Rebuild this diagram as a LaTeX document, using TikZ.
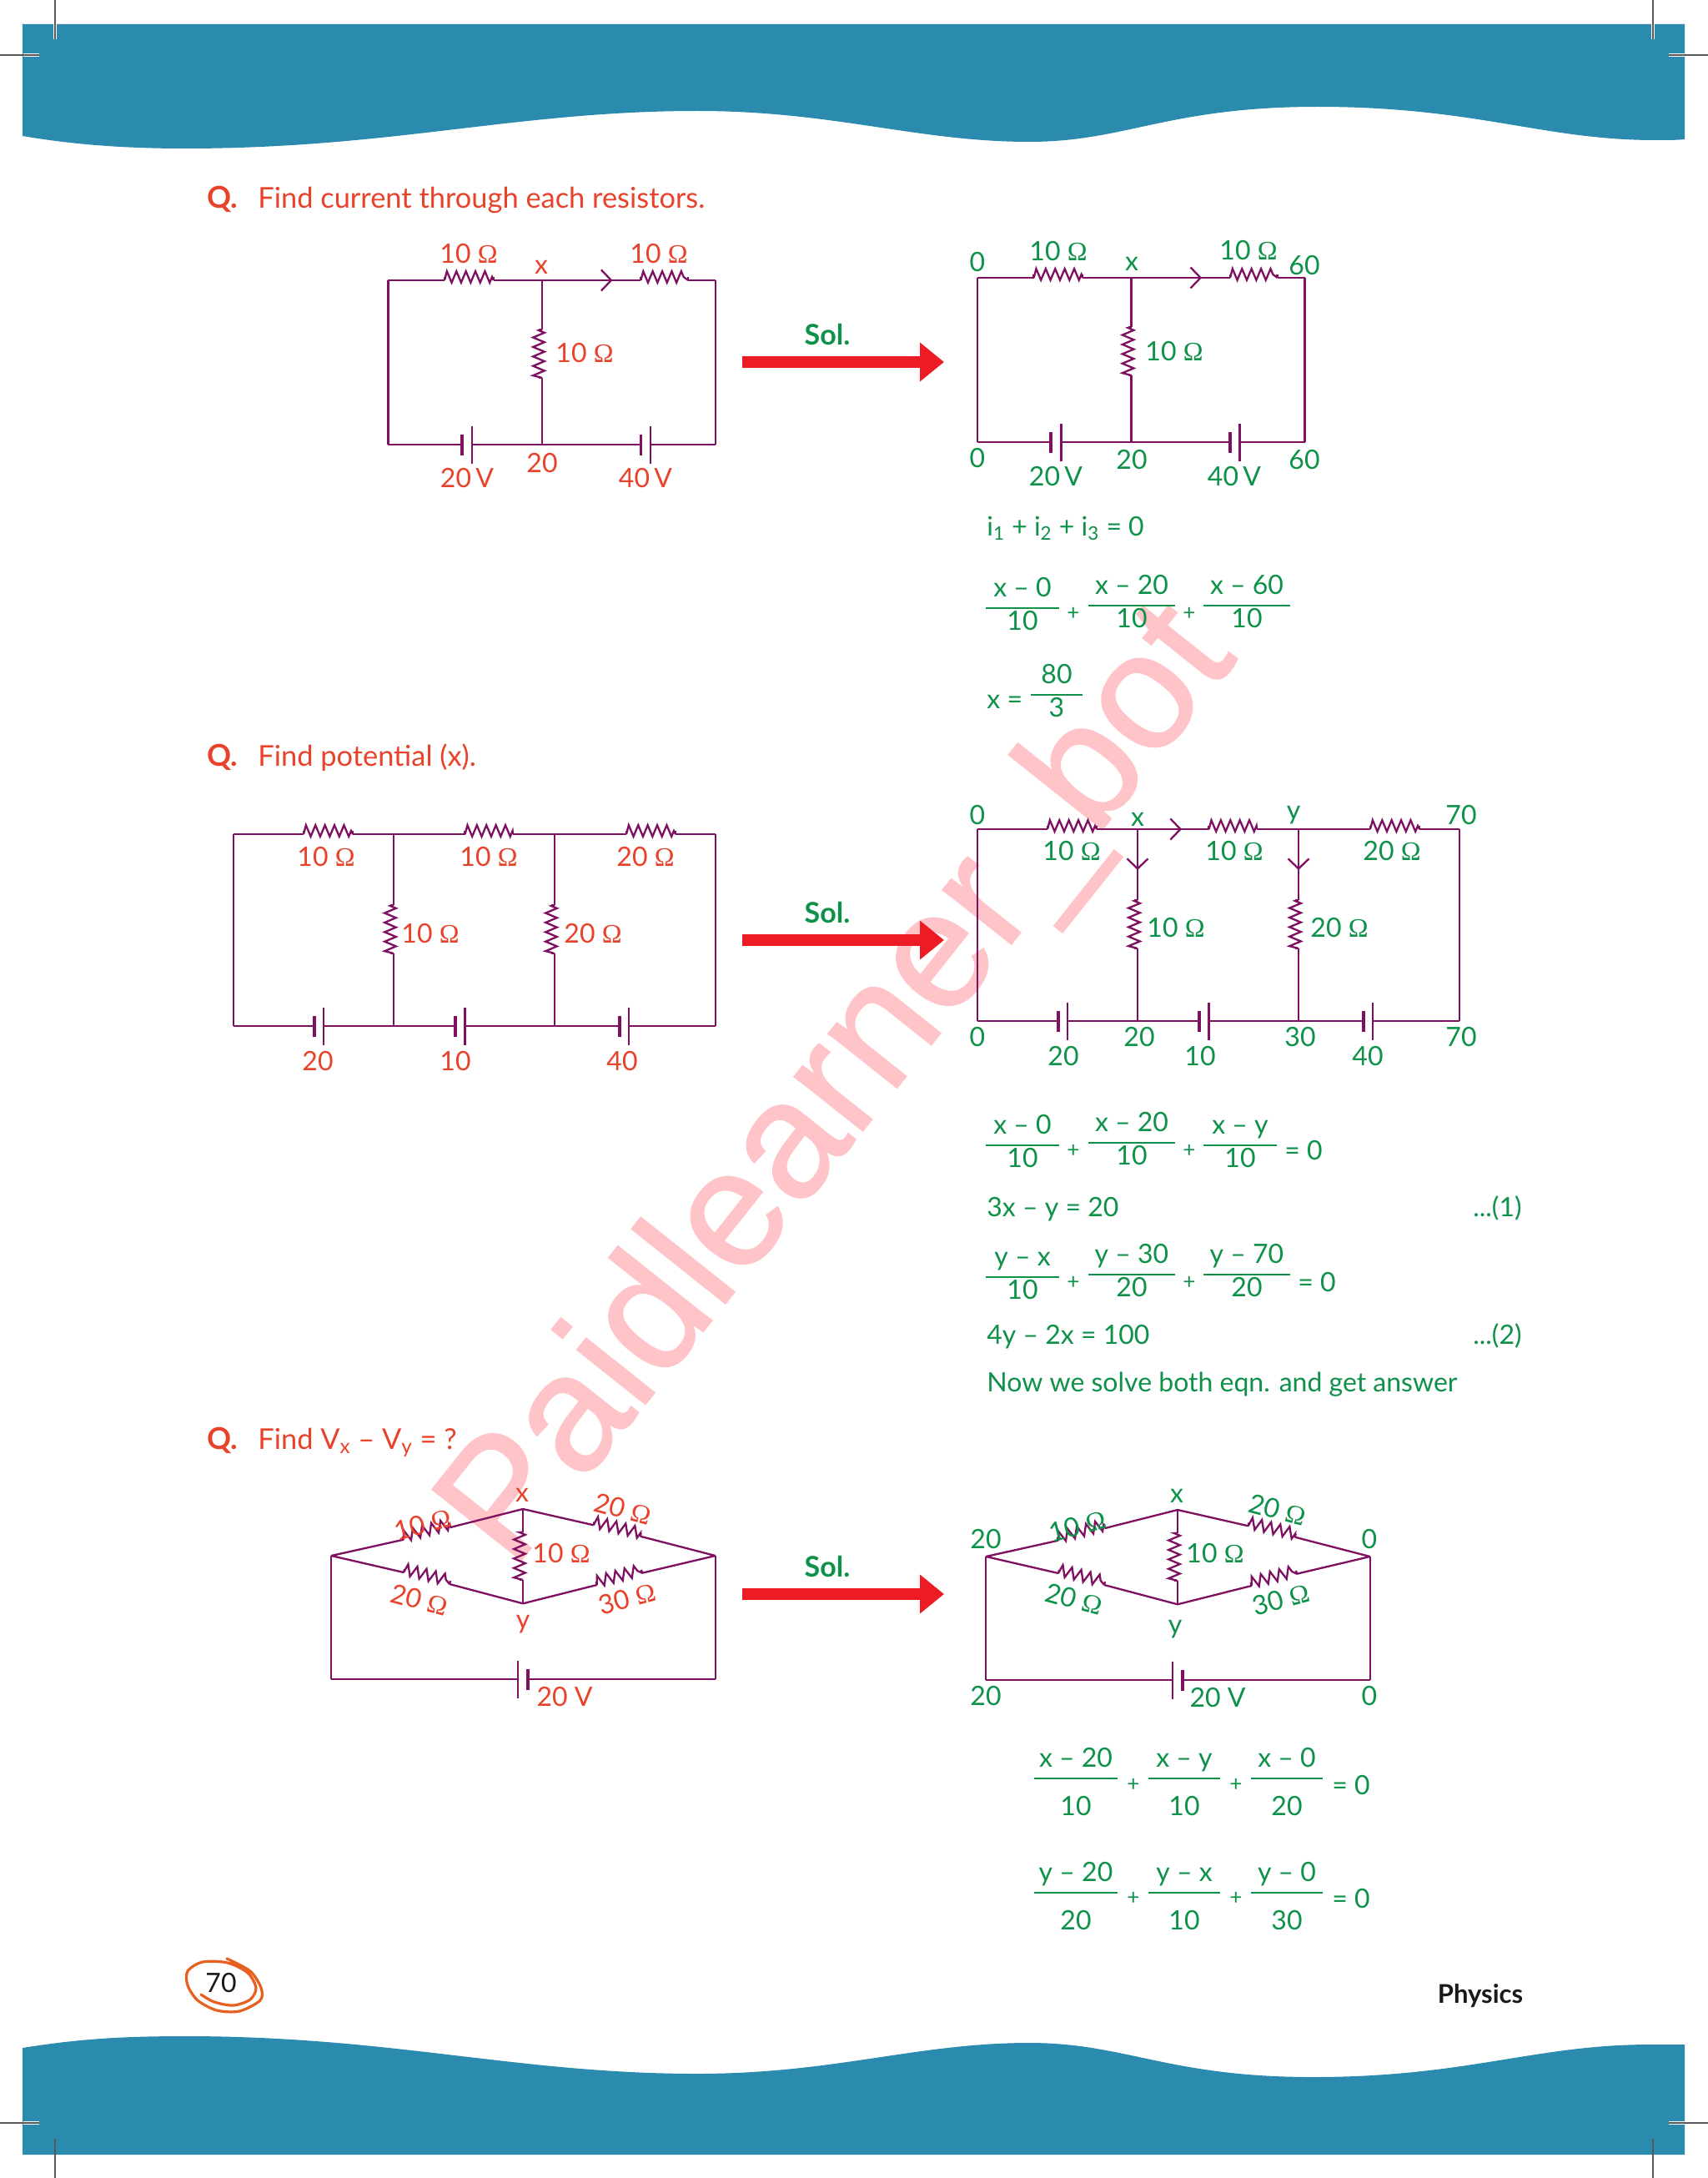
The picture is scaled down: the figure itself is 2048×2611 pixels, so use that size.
\documentclass[tikz,border=0pt]{standalone}
\usepackage{fontspec}
\usepackage{tikz}
\usetikzlibrary{calc,arrows.meta,decorations.pathmorphing}
\setmainfont{Lato}
\newfontfamily\omfont{Liberation Serif}
\newfontfamily\markfont[FakeBold=1]{Liberation Sans}
\definecolor{bandblue}{HTML}{2B8BAE}
\definecolor{wirepur}{HTML}{7F0F60}
\definecolor{labred}{HTML}{E8432A}
\definecolor{labgrn}{HTML}{0E9148}
\definecolor{arrred}{HTML}{ED1C24}
\definecolor{markpink}{HTML}{FFC4C8}
\definecolor{ringorg}{HTML}{E8601F}
\newcommand{\ohm}{{\omfont Ω}}
\newcommand{\tdots}{.{}.{}.}
\newcommand{\res}[2]{
	\draw[wire] (#1) -- ($(#1)!2pt!90:(#2)$);
	\draw[wire,zz] (#1) -- (#2);
	\draw[wire] (#2) -- ($(#2)!2pt!-90:(#1)$);
}
\newcommand{\batt}[2]{
	\draw[plate] ($(#1)+(0,-12.5)$) -- ($(#1)+(0,12.5)$);
	\draw[wire] ($(#2)+(0,-22.5)$) -- ($(#2)+(0,22.5)$);
}
\newcommand{\frc}[4][12.5pt]{\makebox[#2][c]{\raisebox{7.5pt}[0pt][0pt]{#3}}\hspace{-#2}\rule{#2}{1pt}\hspace{-#2}\makebox[#2][c]{\raisebox{-#1}[0pt][0pt]{#4}}}
\begin{document}
\begin{tikzpicture}
	[x=.5pt,y=-.5pt,every node/.style={inner sep=0pt,font=\fontsize{16}{19}\selectfont},
	wire/.style={color=wirepur,line width=1.15pt,line join=miter},
	plate/.style={color=wirepur,line width=1.9pt},
	zz/.style={decorate,decoration={zigzag,amplitude=3.4pt,segment length=5.7pt,raise=2pt}},
	barb/.style={-{Straight Barb[length=6pt,width=12.5pt,line width=1.15pt]}},
	redl/.style={text=labred},
	grnl/.style={text=labgrn},
	band/.style={fill=bandblue,draw=none},
	crop/.style={color=black!65,line width=.7pt},
	halo/.style={color=white,line width=2.4pt}]
	\useasboundingbox (0,0) rectangle (2048,2611);
	\fill[white] (0,0) rectangle (2048,2611);

	\node[text=markpink,rotate=51.5,anchor=base,font=\markfont\fontsize{99}{100}\selectfont] (mark) at (1050,1336) {Paidlearner\_bot};

	\fill[band] (27,29) -- (2020,29) -- (2020,167) .. controls (2010,168) and (2000,168) .. (1985,168)
		.. controls (1850,168) and (1770,128) .. (1580,128)
		.. controls (1400,128) and (1350,170) .. (1234,170)
		.. controls (1100,170) and (1000,133) .. (836,133)
		.. controls (620,133) and (470,178) .. (222,178)
		.. controls (140,178) and (80,172) .. (27,163) -- cycle;
	\fill[band] (27,2583) -- (2020,2583) -- (2020,2451) -- (1979,2451)
		.. controls (1840,2451) and (1760,2490) .. (1574,2490)
		.. controls (1400,2490) and (1350,2449) .. (1234,2449)
		.. controls (1100,2449) and (1000,2486) .. (836,2486)
		.. controls (620,2486) and (470,2441) .. (222,2441)
		.. controls (140,2441) and (90,2445) .. (27,2455) -- cycle;

	\foreach \x/\y/\u/\v in {28/66/47/66,2020/66/2001/66,28/2545/47/2545,2020/2545/2001/2545,66/29/66/47,1982/29/1982/47}
		\draw[halo] (\x,\y) -- (\u,\v);
	\foreach \x/\y/\u/\v in {0/66/47/66,2048/66/2001/66,0/2545/47/2545,2048/2545/2001/2545,66/0/66/47,1982/0/1982/47,66/2564/66/2611,1982/2564/1982/2611}
		\draw[crop] (\x,\y) -- (\u,\v);

	\foreach \nm/\y/\txt in {q1/250/Find current through each resistors.,q2/918/Find potential (x).,q3/1737/Find V\textsubscript{x} – V\textsubscript{y} = ?}
	{
		\node[redl,anchor=base west,font=\fontsize{18}{21}\selectfont\bfseries] (\nm a) at (248,\y) {Q.};
		\node[redl,anchor=base west,font=\fontsize{17.2}{20}\selectfont] (\nm b) at (309,\y) {\txt};
	}

	\foreach \i/\y in {1/434,2/1127,3/1911}
	{
		\coordinate (s\i) at (890,\y);
		\coordinate (e\i) at (1132,\y);
		\draw[color=arrred,line width=6.7pt,-{Triangle[length=14.5pt,width=22.5pt]}] (s\i) -- (e\i);
		\node[text=labgrn,font=\fontsize{17}{20}\selectfont\bfseries] (sol\i) at (992,\y-33) {Sol.};
	}

	\foreach \pre/\dx/\dy in {a/0/0,b/706.6/-3}
	{
		\begin{scope}[shift={(\dx,\dy)}]
			\coordinate (\pre tl) at (465.4,336);
			\coordinate (\pre tr) at (858,336);
			\coordinate (\pre bl) at (465.4,533);
			\coordinate (\pre br) at (858,533);
			\coordinate (\pre j1) at (650,336);
			\coordinate (\pre j2) at (650,533);
			\coordinate (\pre r1) at (533,336);
			\coordinate (\pre r2) at (591.5,336);
			\coordinate (\pre r3) at (768.4,336);
			\coordinate (\pre r4) at (825,336);
			\coordinate (\pre r5) at (650,453);
			\coordinate (\pre r6) at (650,395);
			\coordinate (\pre b1) at (553.7,533);
			\coordinate (\pre b2) at (565.8,533);
			\coordinate (\pre b3) at (768.4,533);
			\coordinate (\pre b4) at (780,533);
			\coordinate (\pre ar) at (734.5,336);
		\end{scope}
		\foreach \from/\to in {tl/r1,r2/r3,r4/tr,tr/br,br/b4,b3/j2,j2/b2,b1/bl,bl/tl,j1/r6,r5/j2}
		\draw[wire] (\pre\from) -- (\pre\to);
		\res{\pre r1}{\pre r2}
		\res{\pre r3}{\pre r4}
		\res{\pre r5}{\pre r6}
		\batt{\pre b1}{\pre b2}
		\batt{\pre b3}{\pre b4}
		\draw[wire,barb] (\pre j1) -- (\pre ar);
	}

	\foreach \pre/\dx/\dy in {c/0/0,d/892/-6}
	{
		\begin{scope}[shift={(\dx,\dy)}]
			\coordinate (\pre tl) at (280,1000);
			\coordinate (\pre tr) at (858,1000);
			\coordinate (\pre bl) at (280,1230);
			\coordinate (\pre br) at (858,1230);
			\coordinate (\pre j1) at (472,1000);
			\coordinate (\pre j2) at (472,1230);
			\coordinate (\pre j3) at (665,1000);
			\coordinate (\pre j4) at (665,1230);
			\coordinate (\pre r1) at (364,1000);
			\coordinate (\pre r2) at (423,1000);
			\coordinate (\pre r3) at (557.6,1000);
			\coordinate (\pre r4) at (615,1000);
			\coordinate (\pre r5) at (751,1000);
			\coordinate (\pre r6) at (810,1000);
			\coordinate (\pre r7) at (472,1143);
			\coordinate (\pre r8) at (472,1085);
			\coordinate (\pre r9) at (665,1143);
			\coordinate (\pre r0) at (665,1085);
			\coordinate (\pre b1) at (376.7,1230);
			\coordinate (\pre b2) at (388,1230);
			\coordinate (\pre b3) at (546,1230);
			\coordinate (\pre b4) at (557.6,1230);
			\coordinate (\pre b5) at (743,1230);
			\coordinate (\pre b6) at (754,1230);
		\end{scope}
		\foreach \from/\to in {tl/r1,r2/r3,r4/r5,r6/tr,tr/br,br/b6,b5/b4,b3/b2,b1/bl,bl/tl,j1/r8,r7/j2,j3/r0,r9/j4}
		\draw[wire] (\pre\from) -- (\pre\to);
		\res{\pre r1}{\pre r2}
		\res{\pre r3}{\pre r4}
		\res{\pre r5}{\pre r6}
		\res{\pre r7}{\pre r8}
		\res{\pre r9}{\pre r0}
		\batt{\pre b1}{\pre b2}
		\batt{\pre b3}{\pre b4}
		\batt{\pre b5}{\pre b6}
	}
	\coordinate (da1) at (1417,994);
	\coordinate (da2) at (1364,1043);
	\coordinate (da3) at (1557,1043);
	\foreach \from/\to in {dj1/da1,dj1/da2,dj3/da3}
	\draw[wire,barb] (\from) -- (\to);

	\foreach \pre/\dx/\dy in {e/0/0,f/785/1}
	{
		\begin{scope}[shift={(\dx,\dy)}]
			\coordinate (\pre l) at (397.3,1865);
			\coordinate (\pre t) at (627,1809);
			\coordinate (\pre y) at (627,1922.3);
			\coordinate (\pre m) at (857.7,1865);
			\coordinate (\pre bl) at (397.3,2013);
			\coordinate (\pre br) at (857.7,2013);
			\coordinate (\pre r1) at (484,1845.7);
			\coordinate (\pre r2) at (540,1831);
			\coordinate (\pre r3) at (484,1885);
			\coordinate (\pre r4) at (539,1899);
			\coordinate (\pre r5) at (711.7,1828.3);
			\coordinate (\pre r6) at (767.7,1841.7);
			\coordinate (\pre r7) at (715.7,1900);
			\coordinate (\pre r8) at (770,1885.7);
			\coordinate (\pre r9) at (627,1894);
			\coordinate (\pre r0) at (627,1836.7);
			\coordinate (\pre b1) at (621,2013);
			\coordinate (\pre b2) at (633,2013);
		\end{scope}
		\foreach \from/\to in {l/r1,r2/t,t/r5,r6/m,l/r3,r4/y,y/r7,r8/m,t/r0,r9/y,l/bl,bl/b1,b2/br,br/m}
		\draw[wire] (\pre\from) -- (\pre\to);
		\res{\pre r1}{\pre r2}
		\res{\pre r3}{\pre r4}
		\res{\pre r5}{\pre r6}
		\res{\pre r7}{\pre r8}
		\res{\pre r9}{\pre r0}
		\batt{\pre b2}{\pre b1}
	}

	\foreach \nm/\x/\y/\txt in {l1/562/304/10 \ohm,l2/790/304/10 \ohm,l3/649/320/x,l4/701/423/10 \ohm,l5/650/555/20,l6/560/573/20\,V,l7/774/573/40\,V,
		l8/391/1027/10 \ohm,l9/586/1027/10 \ohm,l10/774/1027/20 \ohm,l11/516/1119/10 \ohm,l12/711/1119/20 \ohm,l13/381/1272/20,l14/546/1272/10,l15/746/1272/40,
		l16/626/1792/x,l17/673/1862/10 \ohm,l18/627/1947/y,l19/677/2034/20 V}
		\node[redl] (\nm) at (\x,\y) {\txt};
	\foreach \nm/\x/\y/\rot/\txt in {l20/507/1827/15/10 \ohm,l21/747/1809/-15/20 \ohm,l22/503/1918/-15/20 \ohm,l23/752/1916/15/30 \ohm}
		\node[redl,rotate=\rot] (\nm) at (\x,\y) {\txt};

	\foreach \nm/\x/\y/\txt in {g1/1172/314/0,g2/1269/301/10 \ohm,g3/1357/316/x,g4/1497/300/10 \ohm,g5/1564/318/60,g6/1408/421/10 \ohm,g7/1172/549/0,g8/1266/571/20\,V,g9/1357/551/20,g10/1480/571/40\,V,g11/1564/551/60,
		g12/1172/977/0,g13/1285/1020/10 \ohm,g14/1364/982/x,g15/1480/1020/10 \ohm,g16/1551/977/y,g17/1669/1020/20 \ohm,g18/1752/977/70,g19/1410/1112/10 \ohm,g20/1606/1112/20 \ohm,
		g21/1172/1243/0,g22/1275/1266/20,g23/1366/1243/20,g24/1439/1266/10,g25/1559/1243/30,g26/1640/1266/40,g27/1752/1243/70,
		g28/1411/1793/x,g29/1457/1862/10 \ohm,g30/1409/1953/y,g31/1460/2035/20 V,g32/1182/1845/20,g33/1642/1845/0,g34/1182/2033/20,g35/1642/2033/0}
		\node[grnl] (\nm) at (\x,\y) {\txt};
	\foreach \nm/\x/\y/\rot/\txt in {g36/1292/1829/15/10 \ohm,g37/1532/1810/-15/20 \ohm,g38/1288/1917/-15/20 \ohm,g39/1536/1917/15/30 \ohm}
		\node[grnl,rotate=\rot] (\nm) at (\x,\y) {\txt};

	\foreach \nm/\y/\txt in {t1/642/i\textsubscript{1} + i\textsubscript{2} + i\textsubscript{3} = 0,t2/849/x =,t3/1458/3x – y = 20,t4/1611/4y – 2x = 100,t5/1668/Now we solve both eqn. and get answer}
		\node[grnl,anchor=base west] (\nm) at (1183,\y) {\txt};
	\foreach \nm/\y/\txt in {t6/1458/\tdots(1),t7/1611/\tdots(2)}
		\node[grnl,anchor=base east] (\nm) at (1825,\y) {\txt};

	\foreach \nm/\x/\y/\w/\up/\dn in {f1/1226/730/44pt/x – 0/10,f2/1357/727/52pt/x – 20/10,f3/1495/727/52pt/x – 60/10,f4/1267/834/31pt/80/3,
		f5/1226/1374/44pt/x – 0/10,f6/1357/1371/52pt/x – 20/10,f7/1487/1374/44pt/x – y/10,
		f8/1226/1532/44pt/y – x/10,f9/1357/1529/52pt/y – 30/20,f10/1495/1529/52pt/y – 70/20}
		\node[grnl,anchor=base] (\nm) at (\x,\y) {\frc{\w}{\up}{\dn}};
	\foreach \nm/\x/\y/\w/\up/\dn in {f11/1290/2133/50pt/x – 20/10,f12/1420/2133/43pt/x – y/10,f13/1543/2133/43pt/x – 0/20,
		f14/1290/2270/50pt/y – 20/20,f15/1420/2270/43pt/y – x/10,f16/1543/2270/43pt/y – 0/30}
		\node[grnl,anchor=base] (\nm) at (\x,\y) {\frc[21.5pt]{\w}{\up}{\dn}};
	\foreach \nm/\x/\y in {p1/1287/736,p2/1426/736,p3/1287/1380,p4/1426/1380,p5/1287/1538,p6/1426/1538,p7/1359/2140,p8/1482/2140,p9/1359/2276,p10/1482/2276}
		\node[grnl,font=\fontsize{13}{15}\selectfont] (\nm) at (\x,\y) {+};
	\foreach \nm/\x/\y in {z1/1563/1379,z2/1579/1537,z3/1620/2140,z4/1620/2276}
		\node[grnl] (\nm) at (\x,\y) {= 0};

	\draw[color=ringorg,line width=1.6pt,line cap=round] plot[smooth] coordinates {(241,2391) (257,2400) (280,2404) (300,2397) (307,2383) (297,2365) (273,2353) (243,2352) (225,2363) (225,2380) (237,2398) (260,2410) (287,2411) (312,2398) (313,2383) (300,2363) (272,2348)};
	\node[text=black!90] (page) at (265,2377) {70};
	\node[text=black!90,font=\fontsize{15.5}{18}\selectfont\bfseries] (subj) at (1775,2393) {Physics};
\end{tikzpicture}
\end{document}
